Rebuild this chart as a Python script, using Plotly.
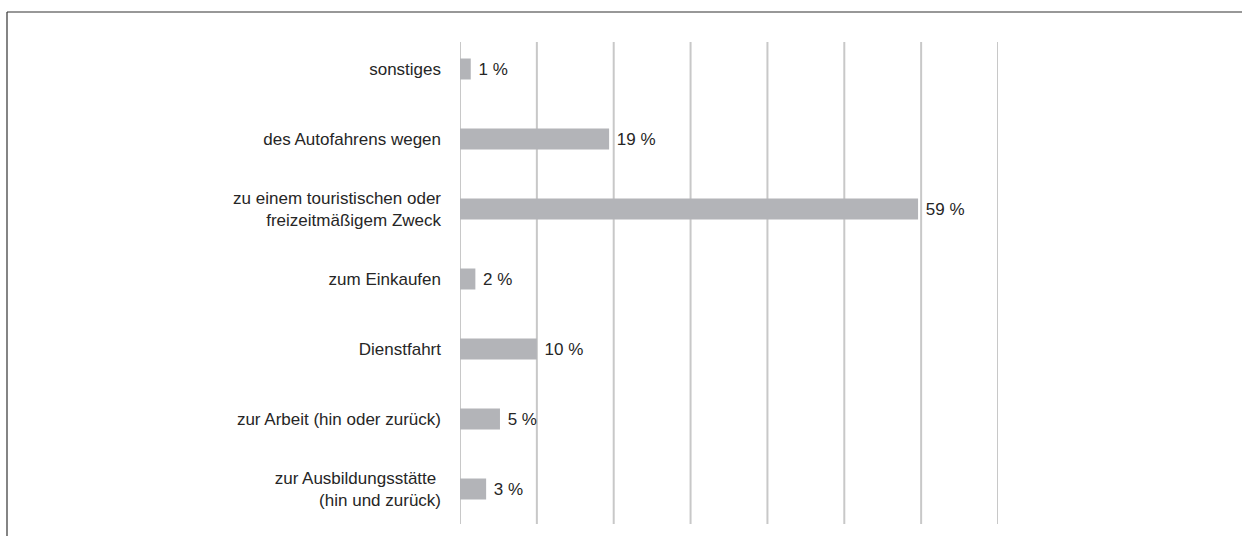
import plotly.graph_objects as go

categories = [
    "sonstiges",
    "des Autofahrens wegen",
    "zu einem touristischen oder<br>freizeitmäßigem Zweck",
    "zum Einkaufen",
    "Dienstfahrt",
    "zur Arbeit (hin oder zurück)",
    "zur Ausbildungsstätte <br>(hin und zurück)",
]
values = [1.4, 19.4, 59.6, 2.0, 10.0, 5.2, 3.4]
value_labels = ["1 %", "19 %", "59 %", "2 %", "10 %", "5 %", "3 %"]
grid_ticks = [0, 10, 20, 30, 40, 50, 60, 70]

W, H = 1242, 536
ML, MR, MT, MB = 460, 244, 34, 12
pw = W - ML - MR
ph = H - MT - MB

FONT = "Liberation Sans, Arial, sans-serif"
TXT = "#262626"

fig = go.Figure()
fig.add_trace(go.Bar(
    y=categories, x=values, orientation="h",
    width=0.3,
    marker=dict(color="#b3b4b8", line=dict(width=0)),
    text=value_labels, texttemplate=" %{text}", textposition="outside",
    textfont=dict(family=FONT, size=17, color=TXT),
    cliponaxis=False,
    hoverinfo="skip",
))

shapes = []
grid_top = (H - MB - 42) / ph
for t in grid_ticks:
    shapes.append(dict(type="line", xref="x", yref="paper", x0=t, x1=t, y0=0, y1=grid_top,
                       line=dict(color="#c8c8c8", width=2), layer="below"))
# frame lines (left and top)
fx = (7 - ML) / pw
fy = (H - MB - 12) / ph
shapes.append(dict(type="line", xref="paper", yref="paper", x0=fx, x1=fx, y0=-0.05, y1=fy,
                   line=dict(color="#333333", width=1.2)))
shapes.append(dict(type="line", xref="paper", yref="paper", x0=fx, x1=1.5, y0=fy, y1=fy,
                   line=dict(color="#333333", width=1.2)))

fig.update_layout(
    width=W, height=H,
    margin=dict(l=ML, r=MR, t=MT, b=MB, pad=0),
    paper_bgcolor="white", plot_bgcolor="white",
    showlegend=False,
    shapes=shapes,
    bargap=0.7,
    font=dict(family=FONT, size=17, color=TXT),
    xaxis=dict(range=[0, 70], showgrid=False, zeroline=False, showticklabels=False,
               showline=False, ticks="", fixedrange=True),
    yaxis=dict(autorange="reversed", showgrid=False, zeroline=False, showline=False,
               ticks="", ticklabelstandoff=18, fixedrange=True,
               tickfont=dict(family=FONT, size=17, color=TXT)),
)

fig.write_html("out.html",
               config={"displayModeBar": False, "staticPlot": True},
               post_script="document.body.style.margin='0';document.body.style.overflow='hidden';")
